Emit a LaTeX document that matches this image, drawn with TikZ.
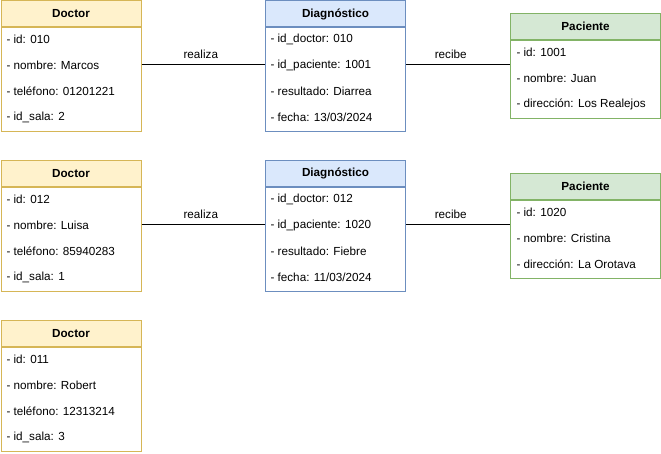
\documentclass[tikz,border=0pt]{standalone}
\usepackage{fontspec}
\setmainfont{Liberation Sans}
\usetikzlibrary{positioning,calc}
\definecolor{docfill}{HTML}{FFF2CC}
\definecolor{docline}{HTML}{D6B656}
\definecolor{diafill}{HTML}{DAE8FC}
\definecolor{dialine}{HTML}{6C8EBF}
\definecolor{pacfill}{HTML}{D5E8D4}
\definecolor{pacline}{HTML}{82B366}
\tikzstyle{edge} = [-, line width=1pt]

\begin{document}
\begin{tikzpicture}[x=1pt, y=-1pt, line width=1pt]
\tikzstyle{every node}=[inner sep=0pt, font=\fontsize{11.7}{14}\selectfont]
\tikzstyle{head}=[draw, anchor=north west, minimum height=26pt, font=\fontsize{11.7}{14}\selectfont\bfseries]
\tikzstyle{body}=[draw, fill=white, anchor=north west]
\tikzstyle{row}=[anchor=west]
	\useasboundingbox (0,0) rectangle (661,454);

	% first row
	\node[head, fill=docfill, draw=docline, minimum width=140pt] (doc1) at (0.5,0.5) {Doctor};
	\node[body, draw=docline, minimum width=140pt, minimum height=104pt] (doc1b) at (doc1.south west) {};
	\node[row] (doc1r1) at (6,39) {- id: 010};
	\node[row] (doc1r2) at (6,65) {- nombre: Marcos};
	\node[row] (doc1r3) at (6,91) {- teléfono: 01201221};
	\node[row] (doc1r4) at (6,117) {- id\_sala: 2};

	\node[head, fill=diafill, draw=dialine, minimum width=140pt] (dia1) at (265,0.5) {Diagnóstico};
	\node[body, draw=dialine, minimum width=140pt, minimum height=104pt] (dia1b) at (dia1.south west) {};
	\node[row] (dia1r1) at (270,39) {- id\_doctor: 010};
	\node[row] (dia1r2) at (270,65) {- id\_paciente: 1001};
	\node[row] (dia1r3) at (270,91) {- resultado: Diarrea};
	\node[row] (dia1r4) at (270,117) {- fecha: 13/03/2024};

	\node[head, fill=pacfill, draw=pacline, minimum width=150pt] (pac1) at (510,13) {Paciente};
	\node[body, draw=pacline, minimum width=150pt, minimum height=78pt] (pac1b) at (pac1.south west) {};
	\node[row] (pac1r1) at (516,52) {- id: 1001};
	\node[row] (pac1r2) at (516,78) {- nombre: Juan};
	\node[row] (pac1r3) at (516,104) {- dirección: Los Realejos};

	\draw[edge] (doc1b.east |- doc1r2) to node[above=6pt, pos=0.48] {realiza} (dia1b.west |- doc1r2);
	\draw[edge] (dia1b.east |- dia1r2) to node[above=6pt, pos=0.43] {recibe} (pac1b.west |- dia1r2);

	% second row
	\node[head, fill=docfill, draw=docline, minimum width=140pt] (doc2) at (0.5,160) {Doctor};
	\node[body, draw=docline, minimum width=140pt, minimum height=104pt] (doc2b) at (doc2.south west) {};
	\node[row] (doc2r1) at (6,199) {- id: 012};
	\node[row] (doc2r2) at (6,225) {- nombre: Luisa};
	\node[row] (doc2r3) at (6,251) {- teléfono: 85940283};
	\node[row] (doc2r4) at (6,277) {- id\_sala: 1};

	\node[head, fill=diafill, draw=dialine, minimum width=140pt] (dia2) at (265,160) {Diagnóstico};
	\node[body, draw=dialine, minimum width=140pt, minimum height=104pt] (dia2b) at (dia2.south west) {};
	\node[row] (dia2r1) at (270,199) {- id\_doctor: 012};
	\node[row] (dia2r2) at (270,225) {- id\_paciente: 1020};
	\node[row] (dia2r3) at (270,251) {- resultado: Fiebre};
	\node[row] (dia2r4) at (270,277) {- fecha: 11/03/2024};

	\node[head, fill=pacfill, draw=pacline, minimum width=150pt] (pac2) at (510,173) {Paciente};
	\node[body, draw=pacline, minimum width=150pt, minimum height=78pt] (pac2b) at (pac2.south west) {};
	\node[row] (pac2r1) at (516,212) {- id: 1020};
	\node[row] (pac2r2) at (516,238) {- nombre: Cristina};
	\node[row] (pac2r3) at (516,264) {- dirección: La Orotava};

	\draw[edge] (doc2b.east |- doc2r2) to node[above=6pt, pos=0.48] {realiza} (dia2b.west |- doc2r2);
	\draw[edge] (dia2b.east |- dia2r2) to node[above=6pt, pos=0.43] {recibe} (pac2b.west |- dia2r2);

	% third doctor
	\node[head, fill=docfill, draw=docline, minimum width=140pt] (doc3) at (0.5,320) {Doctor};
	\node[body, draw=docline, minimum width=140pt, minimum height=104pt] (doc3b) at (doc3.south west) {};
	\node[row] (doc3r1) at (6,359) {- id: 011};
	\node[row] (doc3r2) at (6,385) {- nombre: Robert};
	\node[row] (doc3r3) at (6,411) {- teléfono: 12313214};
	\node[row] (doc3r4) at (6,437) {- id\_sala: 3};
\end{tikzpicture}
\end{document}
